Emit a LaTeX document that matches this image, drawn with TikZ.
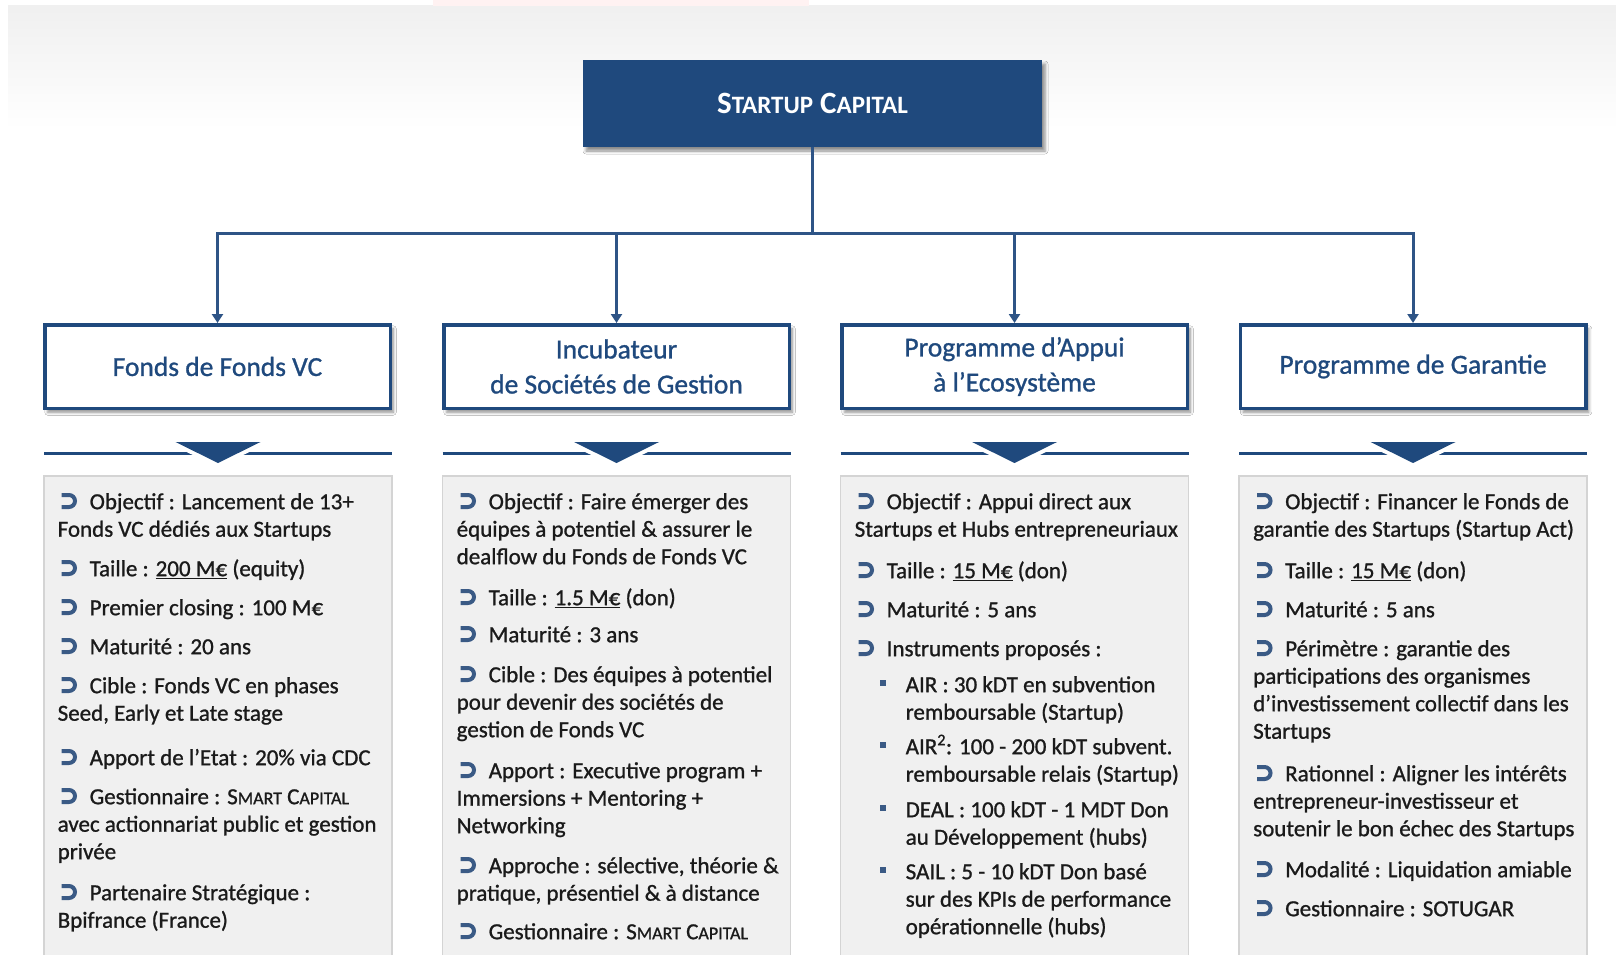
\documentclass[tikz,border=0pt]{standalone}
\usepackage{fontspec}
\setmainfont{Carlito}
\newfontfamily\bodyfont{Carlito}[FakeBold=1]
\usetikzlibrary{arrows.meta,shadows.blur}

\definecolor{navy}{HTML}{1F497D}
\definecolor{connc}{HTML}{2E5486}
\definecolor{ink}{HTML}{1A1A1A}
\definecolor{panelfill}{HTML}{F0F0F0}
\definecolor{panelline}{HTML}{D4D4D4}
\definecolor{bulc}{HTML}{3A5A85}
\definecolor{topstrip}{HTML}{FFF2F2}

% fake small caps: first letter full size, rest smaller capitals
\newcommand\smc[2]{#1{\fontsize{18}{18}\selectfont #2}}
\newcommand\titlesc[2]{#1{\fontsize{25}{25}\selectfont #2}}

\tikzset{
  titlebox/.style={fill=navy, minimum width=459pt, minimum height=87pt, inner sep=0pt,
    text=white, font=\fontsize{31}{31}\selectfont\bfseries,
    blur shadow={shadow xshift=3pt, shadow yshift=-4pt, shadow blur radius=3pt, shadow opacity=45}},
  headbox/.style={draw=navy, line width=3.5pt, fill=white, minimum width=345.5pt,
    minimum height=83.5pt, inner sep=0pt, align=center, text=navy,
    font=\bodyfont\fontsize{27.5}{35}\selectfont,
    blur shadow={shadow xshift=3pt, shadow yshift=-4pt, shadow blur radius=3pt, shadow opacity=45}},
  connline/.style={draw=connc, line width=3pt},
  connarrow/.style={connline, -{Triangle[width=11pt,length=9pt]}},
  sepline/.style={draw=navy, line width=3pt},
  panel/.style={fill=panelfill, draw=panelline, line width=1.5pt},
  itemtxt/.style={anchor=north west, inner sep=0pt, align=left, text=ink,
    font=\bodyfont\fontsize{23}{27.5}\selectfont},
  bul/.pic={\draw[bulc, line width=4pt] (0.5,-14) -- (8,-14) arc(-90:90:6) -- (0.5,-2);},
}

% item with curved-arrow bullet: name, left margin x, first baseline y, text
\newcommand\bitem[4]{%
  \node[itemtxt] (#1) at (#2,#3-20) {\rule{0pt}{20pt}\hspace*{32pt}#4};
  \pic at (#2+3.5,#3) {bul};}
% sub-item with square bullet
\newcommand\sitem[4]{%
  \node[itemtxt] (#1) at (#2,#3-20) {\rule{0pt}{20pt}#4};
  \fill[bulc] (#2+25,#3-12) rectangle ++(6,6);}
\newcommand\ind{\hspace*{51pt}}

\begin{document}
\begin{tikzpicture}[x=1pt,y=-1pt]
\useasboundingbox (0,0) rectangle (1616,955);
\fill[white] (0,0) rectangle (1616,955);

% slide background
\shade[top color=black!6, bottom color=white] (8,6) rectangle (1616,130);
\fill[topstrip] (433,0) rectangle (809,6);

% root box
\node[titlebox] (top) at (812.5,103.5) {\titlesc{S}{TARTUP} \titlesc{C}{APITAL}};

% branch boxes
\node[headbox] (h1) at (217.5,366.5) {Fonds de Fonds VC};
\node[headbox] (h2) at (616.5,366.5) {Incubateur\\de Sociétés de Gestion};
\node[headbox] (h3) at (1014.5,366.5) {Programme d’Appui\\à l’Ecosystème};
\node[headbox] (h4) at (1413,366.5) {Programme de Garantie};

% connectors
\coordinate (jn) at (812.5,233);
\draw[connline] (top.south) -- (jn);
\draw[connarrow] (jn) -| (h1.north);
\draw[connarrow] (jn) -| (h2.north);
\draw[connarrow] (jn) -| (h3.north);
\draw[connarrow] (jn) -| (h4.north);

% separators and detail panels
\foreach \cx in {218,616.5,1014.5,1413}{
  \draw[sepline] (\cx-174,453) -- (\cx+174,453);
  \draw[white, line width=8pt, line join=round] (\cx-42.5,442) -- (\cx+42.5,442) -- (\cx,463) -- cycle;
  \fill[navy] (\cx-42.5,442) -- (\cx+42.5,442) -- (\cx,463) -- cycle;
  \draw[panel] (\cx-174,476) rectangle (\cx+174,970);
}

% column 1
\bitem{c1a}{57.5}{509}{Objectif : Lancement de 13+\\Fonds VC dédiés aux Startups}
\bitem{c1b}{57.5}{576}{Taille : \underline{200 M€} (equity)}
\bitem{c1c}{57.5}{615}{Premier closing : 100 M€}
\bitem{c1d}{57.5}{654}{Maturité : 20 ans}
\bitem{c1e}{57.5}{693}{Cible : Fonds VC en phases\\Seed, Early et Late stage}
\bitem{c1f}{57.5}{765}{Apport de l’Etat : 20\% via CDC}
\bitem{c1g}{57.5}{804}{Gestionnaire : \smc{S}{MART} \smc{C}{APITAL}\\avec actionnariat public et gestion\\privée}
\bitem{c1h}{57.5}{900}{Partenaire Stratégique :\\Bpifrance (France)}

% column 2
\bitem{c2a}{456.5}{509}{Objectif : Faire émerger des\\équipes à potentiel \& assurer le\\dealflow du Fonds de Fonds VC}
\bitem{c2b}{456.5}{605}{Taille : \underline{1.5 M€} (don)}
\bitem{c2c}{456.5}{642}{Maturité : 3 ans}
\bitem{c2d}{456.5}{682}{Cible : Des équipes à potentiel\\pour devenir des sociétés de\\gestion de Fonds VC}
\bitem{c2e}{456.5}{778}{Apport : Executive program +\\Immersions + Mentoring +\\Networking}
\bitem{c2f}{456.5}{873}{Approche : sélective, théorie \&\\pratique, présentiel \& à distance}
\bitem{c2g}{456.5}{939}{Gestionnaire : \smc{S}{MART} \smc{C}{APITAL}}

% column 3
\bitem{c3a}{854.5}{509}{Objectif : Appui direct aux\\Startups et Hubs entrepreneuriaux}
\bitem{c3b}{854.5}{578}{Taille : \underline{15 M€} (don)}
\bitem{c3c}{854.5}{617}{Maturité : 5 ans}
\bitem{c3d}{854.5}{656}{Instruments proposés :}
\sitem{s1}{854.5}{692}{\ind AIR : 30 kDT en subvention\\\ind remboursable (Startup)}
\sitem{s2}{854.5}{754}{\ind AIR\textsuperscript{2}: 100 - 200 kDT subvent.\\\ind remboursable relais (Startup)}
\sitem{s3}{854.5}{817}{\ind DEAL : 100 kDT - 1 MDT Don\\\ind au Développement (hubs)}
\sitem{s4}{854.5}{879}{\ind SAIL : 5 - 10 kDT Don basé\\\ind sur des KPIs de performance\\\ind opérationnelle (hubs)}

% column 4
\bitem{c4a}{1253}{509}{Objectif : Financer le Fonds de\\garantie des Startups (Startup Act)}
\bitem{c4b}{1253}{578}{Taille : \underline{15 M€} (don)}
\bitem{c4c}{1253}{617}{Maturité : 5 ans}
\bitem{c4d}{1253}{656}{Périmètre : garantie des\\participations des organismes\\d’investissement collectif dans les\\Startups}
\bitem{c4e}{1253}{781}{Rationnel : Aligner les intérêts\\entrepreneur-investisseur et\\soutenir le bon échec des Startups}
\bitem{c4f}{1253}{877}{Modalité : Liquidation amiable}
\bitem{c4g}{1253}{916}{Gestionnaire : SOTUGAR}
\end{tikzpicture}
\end{document}
